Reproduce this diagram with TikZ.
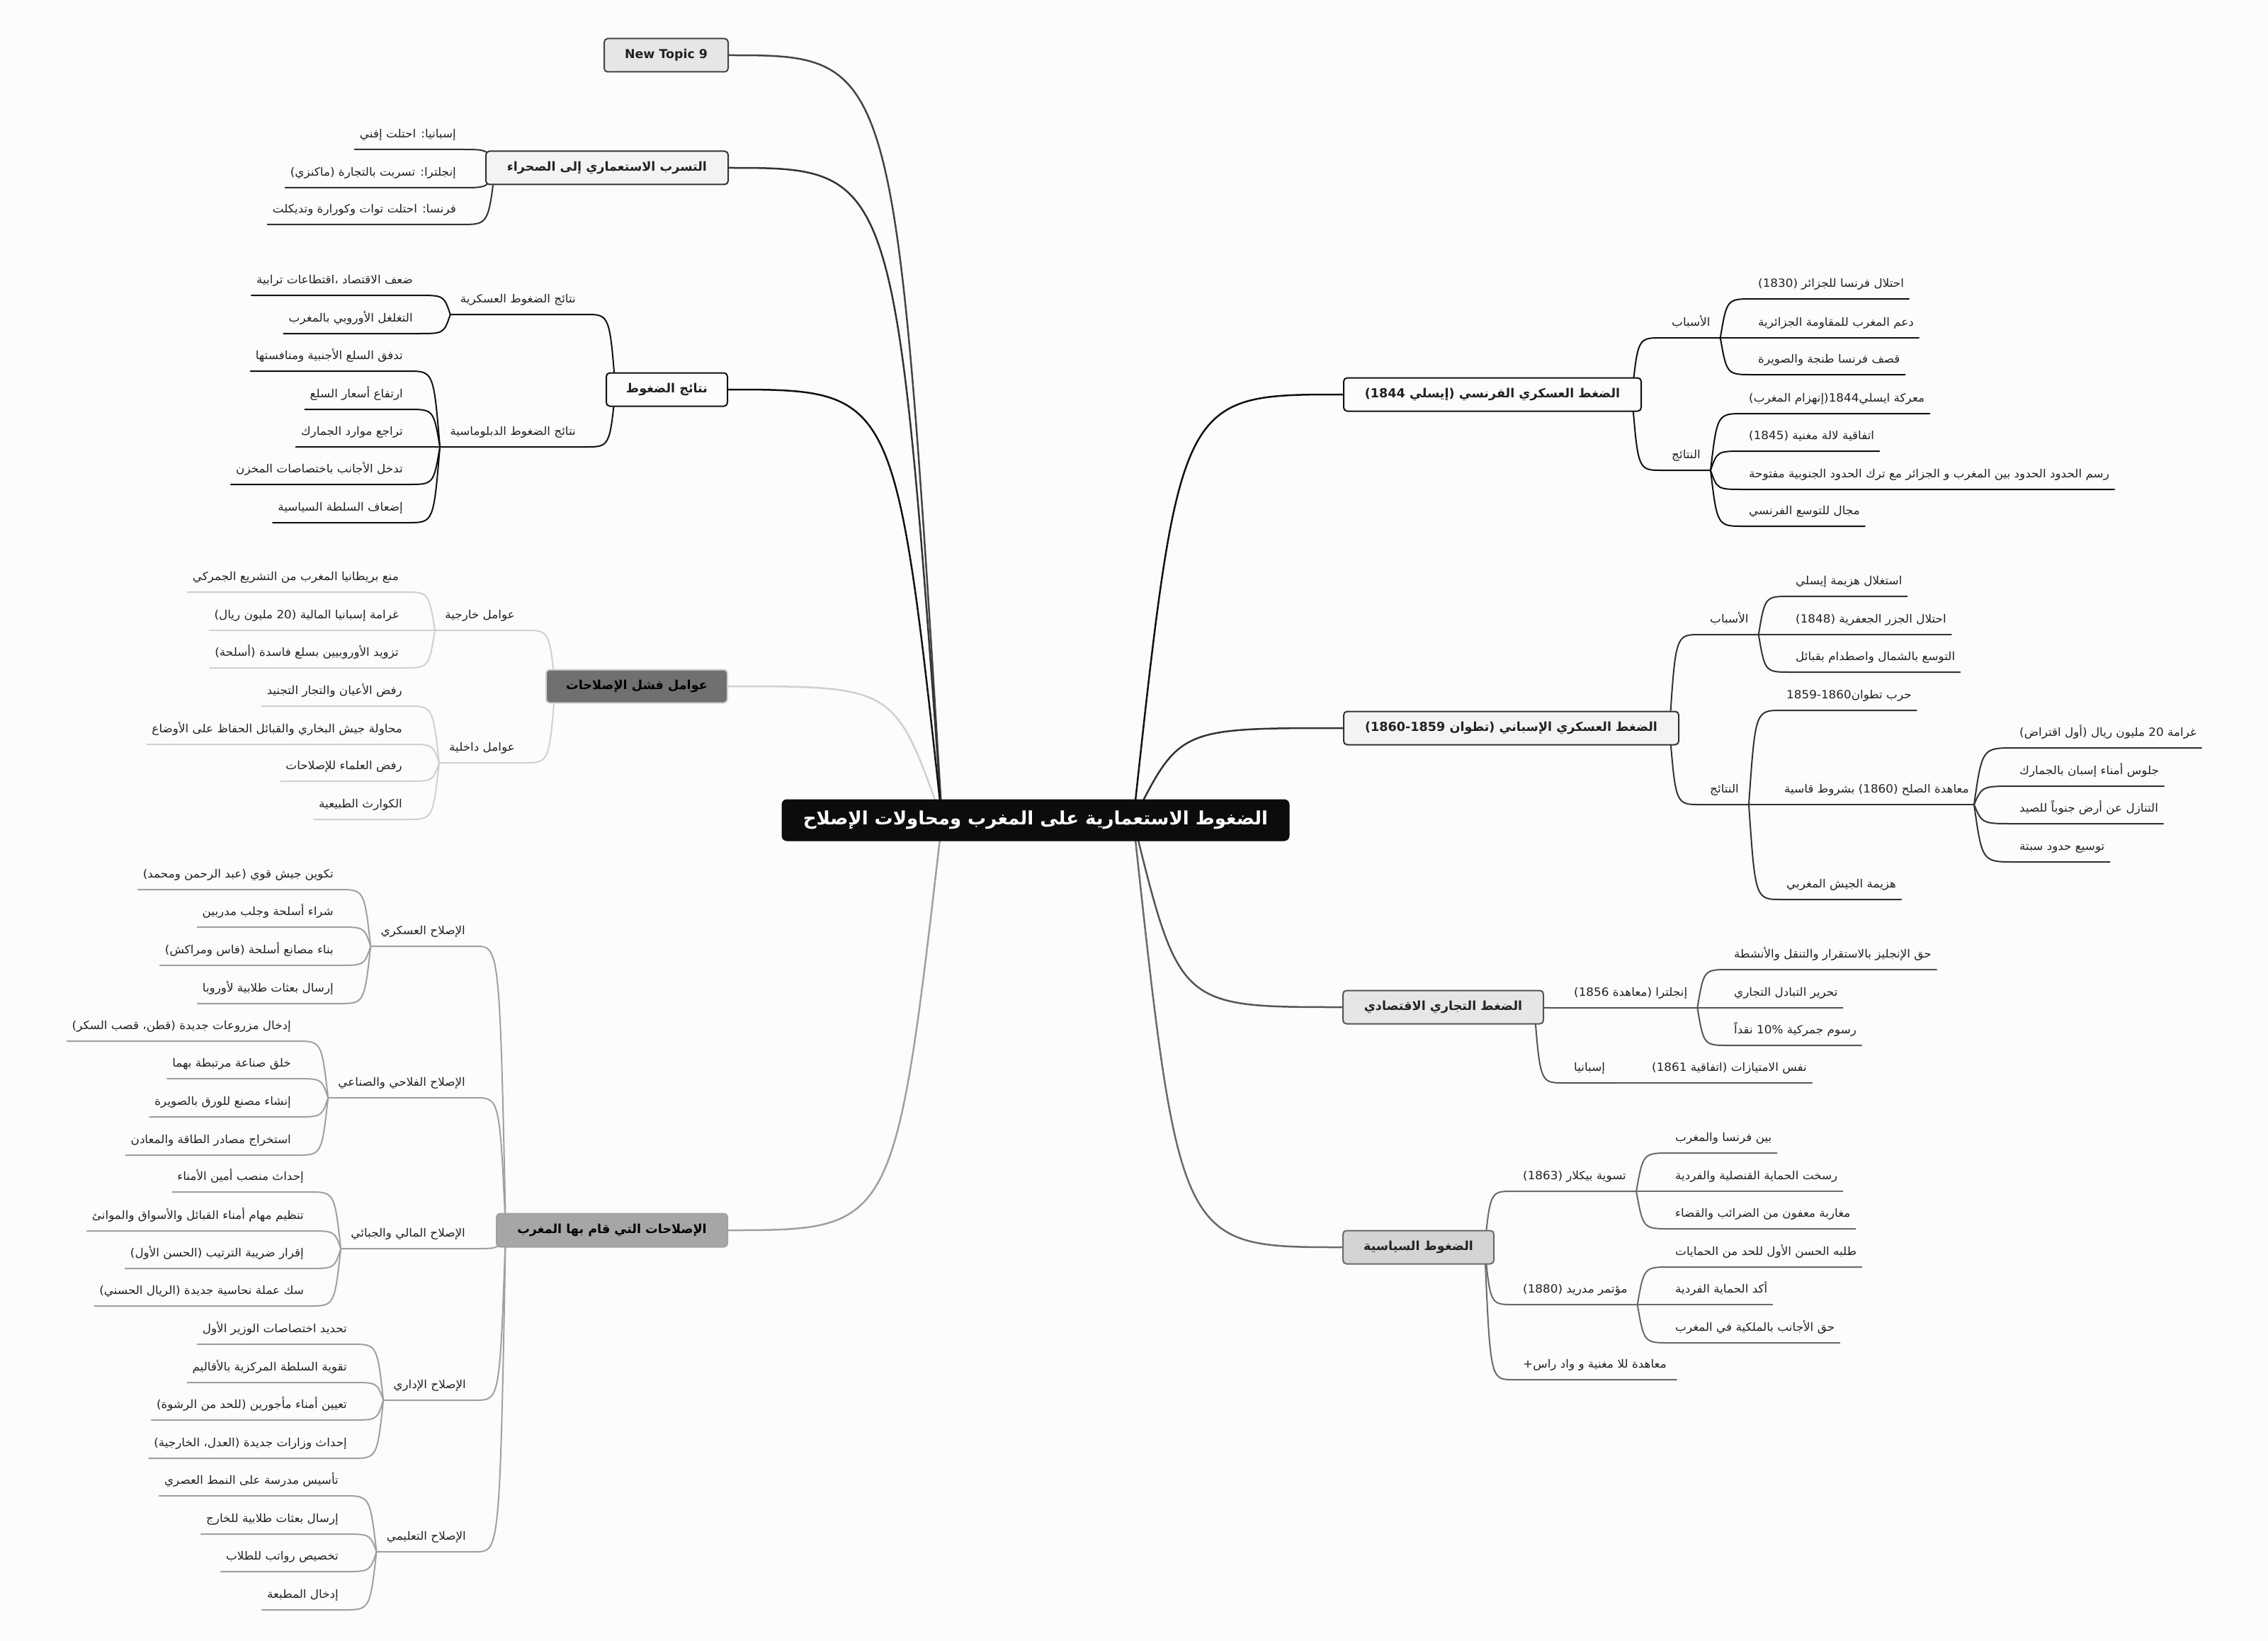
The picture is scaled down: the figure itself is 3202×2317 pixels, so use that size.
\documentclass[tikz,border=0pt]{standalone}
\usepackage{fontspec}
\usetikzlibrary{calc}
\TeXXeTstate=1
\newfontfamily\arf[Script=Arabic]{DejaVu Sans}
\newfontfamily\arl[Script=Arabic, FakeStretch=1.05]{DejaVu Sans}
\newfontfamily\dvf{DejaVu Sans}
\newcommand\AR[1]{\beginR #1\endR}
\pgfdeclarelayer{bgl}
\pgfsetlayers{bgl,main}
\definecolor{bgc}{HTML}{FCFCFC}
\definecolor{txt}{HTML}{222222}
\definecolor{rootc}{HTML}{0C0C0C}
\definecolor{c1}{HTML}{444444}
\definecolor{c2}{HTML}{333333}
\definecolor{c3}{HTML}{111111}
\definecolor{c4}{HTML}{D0D0D0}
\definecolor{c5}{HTML}{A0A0A0}
\definecolor{c6}{HTML}{111111}
\definecolor{c7}{HTML}{333333}
\definecolor{c8}{HTML}{555555}
\definecolor{c9}{HTML}{6A6A6A}
\definecolor{f1}{HTML}{E6E6E6}
\definecolor{f2}{HTML}{F3F3F3}
\definecolor{f3}{HTML}{FCFCFC}
\definecolor{f4}{HTML}{707070}
\definecolor{f5}{HTML}{A6A6A6}
\definecolor{f6}{HTML}{FCFCFC}
\definecolor{f7}{HTML}{F3F3F3}
\definecolor{f8}{HTML}{E6E6E6}
\definecolor{f9}{HTML}{D4D4D4}
\tikzset{
 ln/.style={line width=2pt, line cap=round, line join=round},
 box/.style={draw, line width=2pt, rounded corners=5pt, minimum height=47pt, inner xsep=8pt, inner ysep=0pt, text=txt, font=\arf\bfseries\fontsize{17.6}{20}\selectfont},
 lfL/.style={anchor=south east, inner xsep=7pt, inner ysep=4pt, text height=12pt, text depth=12pt, text=txt, font=\arl\fontsize{16}{19}\selectfont},
 lfR/.style={lfL, anchor=south west},
 sbL/.style={lfL, inner xsep=14pt},
 sbR/.style={lfR, inner xsep=14pt},
}
% connector to a left-side child (curve then underline)
\newcommand\cL[4][0.2]{\draw[ln,#2] (#3) .. controls ($(#3|-#4.south east)!#1!(#4.south east)$) .. (#4.south east) -- (#4.south west);}
% connector to a right-side child
\newcommand\cR[4][0.2]{\draw[ln,#2] (#3) .. controls ($(#3|-#4.south west)!#1!(#4.south west)$) .. (#4.south west) -- (#4.south east);}
% connector from the central topic to a main topic
\newcommand\cT[4][0.22]{\draw[ln,line width=2.5pt,#2] (#3) .. controls ($(#3|-#4)!#1!(#4)$) .. (#4);}
\begin{document}
\begin{tikzpicture}[x=1pt,y=-1pt]
\useasboundingbox (0,0) rectangle (3202,2317);
\begin{pgfonlayer}{bgl}
\fill[bgc] (0,0) rectangle (3202,2317);
\end{pgfonlayer}

% central topic
\node[draw=rootc, fill=rootc, line width=1pt, rounded corners=7pt, minimum width=716pt, minimum height=58pt, inner sep=0pt, text=white, font=\arf\bfseries\fontsize{26}{29}\selectfont] (root) at (1462,1158) {\AR{الضغوط الاستعمارية على المغرب ومحاولات الإصلاح}};
\coordinate (cl) at (1330,1158);
\coordinate (cr) at (1600,1158);

% main topics, left
\node[box, draw=c1, fill=f1, minimum width=175pt, anchor=east, font=\dvf\bfseries\fontsize{17.4}{20}\selectfont] (bNT) at (1029,78) {New Topic 9};
\node[box, draw=c2, fill=f2, minimum width=342pt, anchor=east] (bTS) at (1029,237) {\AR{التسرب الاستعماري إلى الصحراء}};
\node[box, draw=c3, fill=f3, minimum width=171pt, anchor=east] (bNP) at (1028,550) {\AR{نتائج الضغوط}};
\node[box, draw=c4, fill=f4, minimum width=256pt, anchor=east, text=black] (bFA) at (1028,969) {\AR{عوامل فشل الإصلاحات}};
\node[box, draw=c5, fill=f5, minimum width=326pt, anchor=east, text=black] (bRF) at (1028,1737) {\AR{الإصلاحات التي قام بها المغرب}};
% main topics, right
\node[box, draw=c6, fill=f6, minimum width=420pt, anchor=west] (bFR) at (1896,557) {\AR{الضغط العسكري الفرنسي (إيسلي 1844)}};
\node[box, draw=c7, fill=f7, minimum width=473pt, anchor=west] (bES) at (1896,1028) {\AR{الضغط العسكري الإسباني (تطوان 1860-1859)}};
\node[box, draw=c8, fill=f8, minimum width=283pt, anchor=west] (bTR) at (1895,1422) {\AR{الضغط التجاري الاقتصادي}};
\node[box, draw=c9, fill=f9, minimum width=213pt, anchor=west] (bPO) at (1895,1761) {\AR{الضغوط السياسية}};

\coordinate (oTS) at ($(bTS.west)+(14,0)$);
\coordinate (oNP) at ($(bNP.west)+(14,0)$);
\coordinate (oFA) at ($(bFA.west)+(14,0)$);
\coordinate (oRF) at ($(bRF.west)+(14,0)$);
\coordinate (oFR) at ($(bFR.east)+(-14,0)$);
\coordinate (oES) at ($(bES.east)+(-14,0)$);
\coordinate (oTR) at ($(bTR.east)+(-14,0)$);
\coordinate (oPO) at ($(bPO.east)+(-14,0)$);

% التسرب
\node[lfL] (tsa) at (651,211) {\AR{إسبانيا: احتلت إفني}};
\node[lfL] (tsb) at (651,265) {\AR{إنجلترا: تسربت بالتجارة (ماكنزي)}};
\node[lfL] (tsc) at (651,317) {\AR{فرنسا: احتلت توات وكورارة وتديكلت}};

% نتائج الضغوط
\node[sbL] (npm) at (827,444) {\AR{نتائج الضغوط العسكرية}};
\node[lfL] (npm1) at (590,417) {\AR{ضعف الاقتصاد ،اقتطاعات ترابية}};
\node[lfL] (npm2) at (590,471) {\AR{التغلغل الأوروبي بالمغرب}};
\node[sbL] (npd) at (827,631) {\AR{نتائج الضغوط الدبلوماسية}};
\node[lfL] (npd1) at (576,524) {\AR{تدفق السلع الأجنبية ومنافستها}};
\node[lfL] (npd2) at (576,578) {\AR{ارتفاع أسعار السلع}};
\node[lfL] (npd3) at (576,631) {\AR{تراجع موارد الجمارك}};
\node[lfL] (npd4) at (576,684) {\AR{تدخل الأجانب باختصاصات المخزن}};
\node[lfL] (npd5) at (576,738) {\AR{إضعاف السلطة السياسية}};

% عوامل فشل الإصلاحات
\node[sbL] (fae) at (741,890) {\AR{عوامل خارجية}};
\node[lfL] (fae1) at (570,836) {\AR{منع بريطانيا المغرب من التشريع الجمركي}};
\node[lfL] (fae2) at (570,890) {\AR{غرامة إسبانيا المالية (20 مليون ريال)}};
\node[lfL] (fae3) at (570,943) {\AR{تزويد الأوروبيين بسلع فاسدة (أسلحة)}};
\node[sbL] (fai) at (741,1077) {\AR{عوامل داخلية}};
\node[lfL] (fai1) at (575,997) {\AR{رفض الأعيان والتجار التجنيد}};
\node[lfL] (fai2) at (575,1051) {\AR{محاولة جيش البخاري والقبائل الحفاظ على الأوضاع}};
\node[lfL] (fai3) at (575,1103) {\AR{رفض العلماء للإصلاحات}};
\node[lfL] (fai4) at (575,1157) {\AR{الكوارث الطبيعية}};

% الإصلاحات
\node[sbL] (rfm) at (671,1336) {\AR{الإصلاح العسكري}};
\node[lfL] (rfm1) at (478,1256) {\AR{تكوين جيش قوي (عبد الرحمن ومحمد)}};
\node[lfL] (rfm2) at (478,1309) {\AR{شراء أسلحة وجلب مدربين}};
\node[lfL] (rfm3) at (478,1363) {\AR{بناء مصانع أسلحة (فاس ومراكش)}};
\node[lfL] (rfm4) at (478,1417) {\AR{إرسال بعثات طلابية لأوروبا}};
\node[sbL] (rfa) at (671,1550) {\AR{الإصلاح الفلاحي والصناعي}};
\node[lfL] (rfa1) at (418,1470) {\AR{إدخال مزروعات جديدة (قطن، قصب السكر)}};
\node[lfL] (rfa2) at (418,1523) {\AR{خلق صناعة مرتبطة بهما}};
\node[lfL] (rfa3) at (418,1577) {\AR{إنشاء مصنع للورق بالصويرة}};
\node[lfL] (rfa4) at (418,1631) {\AR{استخراج مصادر الطاقة والمعادن}};
\node[sbL] (rff) at (671,1763) {\AR{الإصلاح المالي والجبائي}};
\node[lfL] (rff1) at (436,1683) {\AR{إحداث منصب أمين الأمناء}};
\node[lfL] (rff2) at (436,1738) {\AR{تنظيم مهام أمناء القبائل والأسواق والموانئ}};
\node[lfL] (rff3) at (436,1791) {\AR{إقرار ضريبة الترتيب (الحسن الأول)}};
\node[lfL] (rff4) at (436,1844) {\AR{سك عملة نحاسية جديدة (الريال الحسني)}};
\node[sbL] (rfd) at (672,1977) {\AR{الإصلاح الإداري}};
\node[lfL] (rfd1) at (497,1898) {\AR{تحديد اختصاصات الوزير الأول}};
\node[lfL] (rfd2) at (497,1952) {\AR{تقوية السلطة المركزية بالأقاليم}};
\node[lfL] (rfd3) at (497,2005) {\AR{تعيين أمناء مأجورين (للحد من الرشوة)}};
\node[lfL] (rfd4) at (497,2059) {\AR{إحداث وزارات جديدة (العدل، الخارجية)}};
\node[sbL] (rfe) at (672,2191) {\AR{الإصلاح التعليمي}};
\node[lfL] (rfe1) at (485,2112) {\AR{تأسيس مدرسة على النمط العصري}};
\node[lfL] (rfe2) at (485,2166) {\AR{إرسال بعثات طلابية للخارج}};
\node[lfL] (rfe3) at (485,2219) {\AR{تخصيص رواتب للطلاب}};
\node[lfL] (rfe4) at (485,2273) {\AR{إدخال المطبعة}};

% الضغط العسكري الفرنسي
\node[sbR] (frc) at (2346,477) {\AR{الأسباب}};
\node[lfR] (frc1) at (2475,422) {\AR{احتلال فرنسا للجزائر (1830)}};
\node[lfR] (frc2) at (2475,477) {\AR{دعم المغرب للمقاومة الجزائرية}};
\node[lfR] (frc3) at (2475,529) {\AR{قصف فرنسا طنجة والصويرة}};
\node[sbR] (frr) at (2346,664) {\AR{النتائج}};
\node[lfR] (frr1) at (2462,584) {\AR{معركة ايسلي1844(إنهزام المغرب)}};
\node[lfR] (frr2) at (2462,637) {\AR{اتفاقية لالة مغنية (1845)}};
\node[lfR] (frr3) at (2462,691) {\AR{رسم الحدود الحدود بين المغرب و الجزائر مع ترك الحدود الجنوبية مفتوحة}};
\node[lfR] (frr4) at (2462,743) {\AR{مجال للتوسع الفرنسي}};

% الضغط العسكري الإسباني
\node[sbR] (esc) at (2400,896) {\AR{الأسباب}};
\node[lfR] (esc1) at (2528,842) {\AR{استغلال هزيمة إيسلي}};
\node[lfR] (esc2) at (2528,896) {\AR{احتلال الجزر الجعفرية (1848)}};
\node[lfR] (esc3) at (2528,949) {\AR{التوسع بالشمال واصطدام بقبائل}};
\node[sbR] (esr) at (2400,1136) {\AR{النتائج}};
\node[lfR] (esr1) at (2515,1003) {\AR{حرب تطوان1860-1859}};
\node[lfR] (est) at (2512,1136) {\AR{معاهدة الصلح (1860) بشروط قاسية}};
\node[lfR] (est1) at (2844,1056) {\AR{غرامة 20 مليون ريال (أول اقتراض)}};
\node[lfR] (est2) at (2844,1110) {\AR{جلوس أمناء إسبان بالجمارك}};
\node[lfR] (est3) at (2844,1163) {\AR{التنازل عن أرض جنوباً للصيد}};
\node[lfR] (est4) at (2844,1217) {\AR{توسيع حدود سبتة}};
\node[lfR] (esr2) at (2515,1270) {\AR{هزيمة الجيش المغربي}};

% الضغط التجاري الاقتصادي
\node[sbR] (tre) at (2208,1423) {\AR{إنجلترا (معاهدة 1856)}};
\node[lfR] (tre1) at (2441,1369) {\AR{حق الإنجليز بالاستقرار والتنقل والأنشطة}};
\node[lfR] (tre2) at (2441,1423) {\AR{تحرير التبادل التجاري}};
\node[lfR] (tre3) at (2441,1476) {\AR{رسوم جمركية 10\% نقداً}};
\node[sbR] (trs) at (2208,1529) {\AR{إسبانيا}};
\node[lfR] (trs1) at (2325,1529) {\AR{نفس الامتيازات (اتفاقية 1861)}};

% الضغوط السياسية
\node[sbR] (pob) at (2136,1682) {\AR{تسوية بيكلار (1863)}};
\node[lfR] (pob1) at (2358,1628) {\AR{بين فرنسا والمغرب}};
\node[lfR] (pob2) at (2358,1682) {\AR{رسخت الحماية القنصلية والفردية}};
\node[lfR] (pob3) at (2358,1735) {\AR{مغاربة معفون من الضرائب والقضاء}};
\node[sbR] (pom) at (2136,1842) {\AR{مؤتمر مدريد (1880)}};
\node[lfR] (pom1) at (2358,1789) {\AR{طلبه الحسن الأول للحد من الحمايات}};
\node[lfR] (pom2) at (2358,1842) {\AR{أكد الحماية الفردية}};
\node[lfR] (pom3) at (2358,1896) {\AR{حق الأجانب بالملكية في المغرب}};
\node[sbR] (pol) at (2136,1948) {\AR{معاهدة للا مغنية و واد راس+}};

\begin{pgfonlayer}{bgl}
% central -> main topics
\cT{c1}{cl}{bNT.east}
\cT{c2}{cl}{bTS.east}
\cT{c3}{cl}{bNP.east}
\cT{c4}{cl}{bFA.east}
\cT{c5}{cl}{bRF.east}
\cT{c6}{cr}{bFR.west}
\cT{c7}{cr}{bES.west}
\cT{c8}{cr}{bTR.west}
\cT{c9}{cr}{bPO.west}
% التسرب
\cL{c2}{oTS}{tsa}
\cL{c2}{oTS}{tsb}
\cL{c2}{oTS}{tsc}
% نتائج
\cL{c3}{oNP}{npm}
\cL{c3}{npm.south west}{npm1}
\cL{c3}{npm.south west}{npm2}
\cL{c3}{oNP}{npd}
\cL{c3}{npd.south west}{npd1}
\cL{c3}{npd.south west}{npd2}
\cL{c3}{npd.south west}{npd3}
\cL{c3}{npd.south west}{npd4}
\cL{c3}{npd.south west}{npd5}
% عوامل فشل
\cL{c4}{oFA}{fae}
\cL{c4}{fae.south west}{fae1}
\cL{c4}{fae.south west}{fae2}
\cL{c4}{fae.south west}{fae3}
\cL{c4}{oFA}{fai}
\cL{c4}{fai.south west}{fai1}
\cL{c4}{fai.south west}{fai2}
\cL{c4}{fai.south west}{fai3}
\cL{c4}{fai.south west}{fai4}
% الإصلاحات
\cL{c5}{oRF}{rfm}
\cL{c5}{rfm.south west}{rfm1}
\cL{c5}{rfm.south west}{rfm2}
\cL{c5}{rfm.south west}{rfm3}
\cL{c5}{rfm.south west}{rfm4}
\cL{c5}{oRF}{rfa}
\cL{c5}{rfa.south west}{rfa1}
\cL{c5}{rfa.south west}{rfa2}
\cL{c5}{rfa.south west}{rfa3}
\cL{c5}{rfa.south west}{rfa4}
\cL{c5}{oRF}{rff}
\cL{c5}{rff.south west}{rff1}
\cL{c5}{rff.south west}{rff2}
\cL{c5}{rff.south west}{rff3}
\cL{c5}{rff.south west}{rff4}
\cL{c5}{oRF}{rfd}
\cL{c5}{rfd.south west}{rfd1}
\cL{c5}{rfd.south west}{rfd2}
\cL{c5}{rfd.south west}{rfd3}
\cL{c5}{rfd.south west}{rfd4}
\cL{c5}{oRF}{rfe}
\cL{c5}{rfe.south west}{rfe1}
\cL{c5}{rfe.south west}{rfe2}
\cL{c5}{rfe.south west}{rfe3}
\cL{c5}{rfe.south west}{rfe4}
% فرنسا
\cR{c6}{oFR}{frc}
\cR{c6}{frc.south east}{frc1}
\cR{c6}{frc.south east}{frc2}
\cR{c6}{frc.south east}{frc3}
\cR{c6}{oFR}{frr}
\cR{c6}{frr.south east}{frr1}
\cR{c6}{frr.south east}{frr2}
\cR{c6}{frr.south east}{frr3}
\cR{c6}{frr.south east}{frr4}
% إسبانيا
\cR{c7}{oES}{esc}
\cR{c7}{esc.south east}{esc1}
\cR{c7}{esc.south east}{esc2}
\cR{c7}{esc.south east}{esc3}
\cR{c7}{oES}{esr}
\cR{c7}{esr.south east}{esr1}
\cR{c7}{esr.south east}{est}
\cR{c7}{est.south east}{est1}
\cR{c7}{est.south east}{est2}
\cR{c7}{est.south east}{est3}
\cR{c7}{est.south east}{est4}
\cR{c7}{esr.south east}{esr2}
% التجاري
\cR{c8}{oTR}{tre}
\cR{c8}{tre.south east}{tre1}
\cR{c8}{tre.south east}{tre2}
\cR{c8}{tre.south east}{tre3}
\cR{c8}{oTR}{trs}
\cR{c8}{trs.south east}{trs1}
% السياسية
\cR{c9}{oPO}{pob}
\cR{c9}{pob.south east}{pob1}
\cR{c9}{pob.south east}{pob2}
\cR{c9}{pob.south east}{pob3}
\cR{c9}{oPO}{pom}
\cR{c9}{pom.south east}{pom1}
\cR{c9}{pom.south east}{pom2}
\cR{c9}{pom.south east}{pom3}
\cR{c9}{oPO}{pol}
\end{pgfonlayer}
\end{tikzpicture}
\end{document}
